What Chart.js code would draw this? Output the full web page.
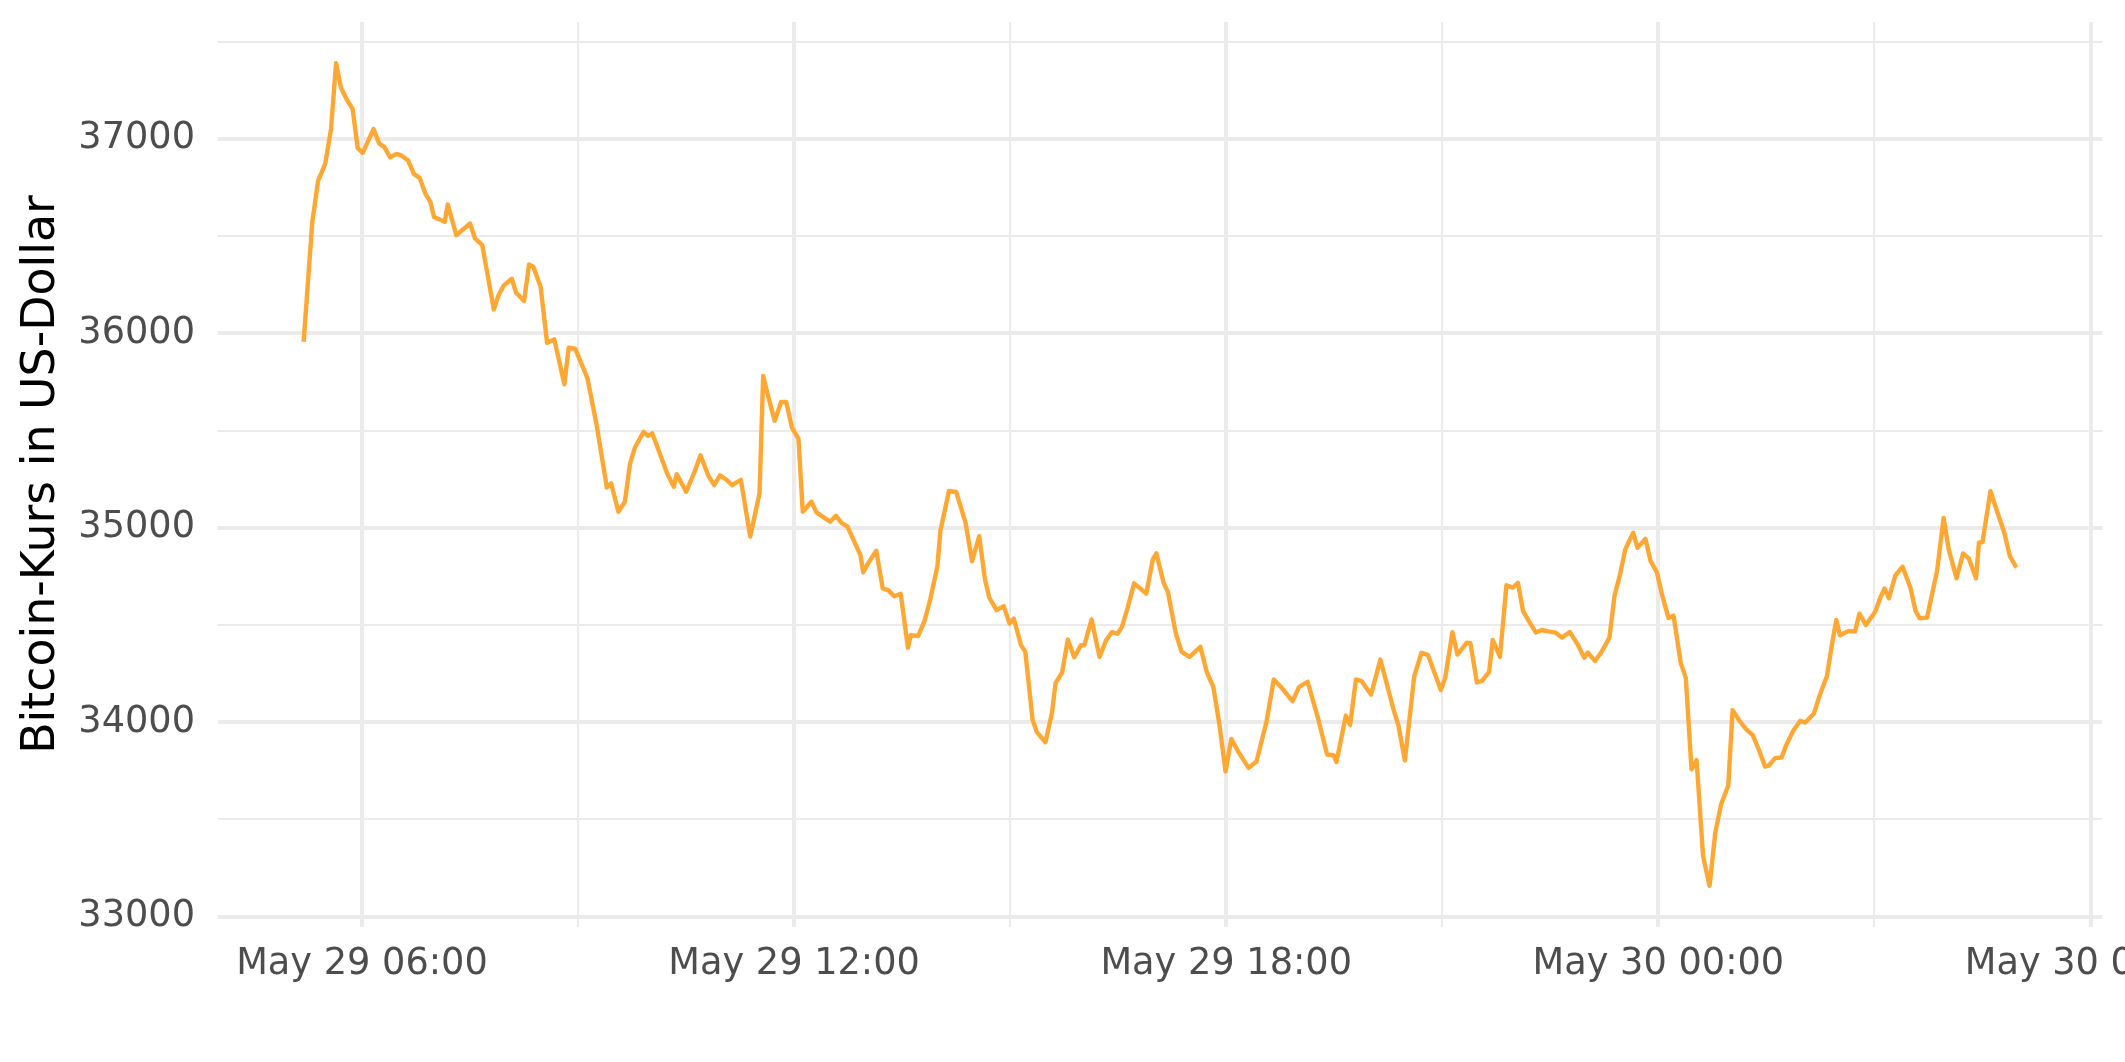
<!DOCTYPE html>
<html>
<head>
<meta charset="utf-8">
<title>Bitcoin-Kurs</title>
<script src="https://cdn.jsdelivr.net/npm/chart.js@4.4.1/dist/chart.umd.min.js"></script>
<style>
  html, body { margin: 0; padding: 0; background: #ffffff; }
  #wrap { width: 2125px; height: 1062px; }
</style>
</head>
<body>
<div id="wrap"><canvas id="btcChart" width="2125" height="1062"></canvas></div>
<script>
// time of each quote, in hours after May 29 00:00
const timeHours = [
  5.19, 5.31, 5.39, 5.49, 5.57, 5.64, 5.71, 5.79, 5.87, 5.94,
  6.01, 6.16, 6.24, 6.31, 6.39, 6.48, 6.55, 6.64, 6.72, 6.80,
  6.88, 6.95, 7.00, 7.15, 7.19, 7.31, 7.50, 7.57, 7.67, 7.83,
  7.90, 7.97, 8.08, 8.14, 8.25, 8.32, 8.38, 8.48, 8.57, 8.67,
  8.81, 8.87, 8.96, 9.13, 9.26, 9.40, 9.46, 9.56, 9.65, 9.72,
  9.79, 9.91, 9.97, 10.03, 10.13, 10.24, 10.33, 10.37, 10.50, 10.61,
  10.70, 10.81, 10.89, 10.97, 11.06, 11.14, 11.26, 11.39, 11.52, 11.57,
  11.64, 11.73, 11.82, 11.89, 11.97, 12.06, 12.12, 12.24, 12.31, 12.50,
  12.58, 12.66, 12.74, 12.92, 12.96, 13.02, 13.14, 13.23, 13.31, 13.39,
  13.48, 13.58, 13.62, 13.72, 13.81, 13.89, 13.99, 14.03, 14.15, 14.25,
  14.38, 14.47, 14.57, 14.65, 14.71, 14.81, 14.91, 14.99, 15.05, 15.15,
  15.21, 15.31, 15.37, 15.49, 15.58, 15.63, 15.72, 15.80, 15.89, 15.98,
  16.03, 16.13, 16.24, 16.33, 16.41, 16.49, 16.55, 16.63, 16.72, 16.89,
  16.98, 17.03, 17.13, 17.19, 17.30, 17.38, 17.49, 17.64, 17.73, 17.82,
  17.90, 17.99, 18.07, 18.17, 18.31, 18.42, 18.56, 18.66, 18.77, 18.92,
  19.01, 19.13, 19.27, 19.40, 19.49, 19.53, 19.66, 19.72, 19.80, 19.88,
  20.01, 20.14, 20.32, 20.39, 20.48, 20.61, 20.71, 20.80, 20.98, 21.04,
  21.14, 21.21, 21.34, 21.39, 21.48, 21.55, 21.65, 21.70, 21.80, 21.89,
  21.98, 22.05, 22.12, 22.20, 22.30, 22.38, 22.47, 22.57, 22.66, 22.77,
  22.89, 22.97, 23.02, 23.12, 23.21, 23.32, 23.39, 23.47, 23.54, 23.65,
  23.71, 23.82, 23.89, 23.98, 24.05, 24.14, 24.21, 24.31, 24.38, 24.46,
  24.53, 24.62, 24.71, 24.79, 24.87, 24.97, 25.03, 25.13, 25.22, 25.31,
  25.40, 25.48, 25.53, 25.62, 25.71, 25.78, 25.88, 25.97, 26.04, 26.16,
  26.24, 26.34, 26.41, 26.47, 26.52, 26.64, 26.73, 26.79, 26.88, 27.01,
  27.08, 27.14, 27.20, 27.29, 27.39, 27.50, 27.57, 27.63, 27.73, 27.87,
  27.96, 28.03, 28.14, 28.23, 28.31, 28.41, 28.45, 28.50, 28.61, 28.70,
  28.80, 28.88, 28.97
];

const priceUsd = [
  35957, 36572, 36783, 36873, 37051, 37390, 37262, 37202, 37154, 36954,
  36928, 37051, 36976, 36959, 36906, 36923, 36914, 36890, 36820, 36800,
  36719, 36676, 36599, 36574, 36663, 36505, 36565, 36488, 36454, 36123,
  36200, 36247, 36281, 36209, 36166, 36354, 36342, 36240, 35952, 35969,
  35738, 35926, 35921, 35770, 35524, 35207, 35228, 35082, 35134, 35327,
  35413, 35493, 35473, 35486, 35387, 35276, 35211, 35276, 35185, 35281,
  35373, 35267, 35219, 35270, 35247, 35219, 35247, 34955, 35178, 35781,
  35675, 35550, 35647, 35647, 35515, 35459, 35082, 35134, 35079, 35031,
  35062, 35024, 35007, 34860, 34771, 34813, 34882, 34688, 34678, 34648,
  34660, 34383, 34448, 34443, 34520, 34631, 34803, 34983, 35189, 35184,
  35026, 34828, 34957, 34734, 34640, 34576, 34597, 34508, 34533, 34396,
  34362, 34014, 33949, 33897, 34048, 34202, 34254, 34425, 34334, 34396,
  34396, 34528, 34336, 34420, 34463, 34455, 34489, 34588, 34714, 34662,
  34837, 34868, 34717, 34669, 34456, 34362, 34336, 34388, 34257, 34182,
  34000, 33747, 33914, 33846, 33765, 33798, 34005, 34220, 34177, 34108,
  34180, 34208, 34025, 33834, 33830, 33795, 34034, 33986, 34220, 34211,
  34142, 34322, 34068, 33983, 33803, 34237, 34357, 34345, 34165, 34228,
  34463, 34348, 34409, 34406, 34204, 34212, 34259, 34423, 34336, 34704,
  34692, 34717, 34572, 34521, 34461, 34474, 34467, 34461, 34435, 34464,
  34392, 34332, 34358, 34315, 34361, 34435, 34649, 34765, 34889, 34974,
  34897, 34943, 34830, 34770, 34656, 34536, 34548, 34305, 34228, 33757,
  33805, 33312, 33158, 33432, 33577, 33675, 34062, 34005, 33963, 33933,
  33853, 33772, 33776, 33815, 33818, 33887, 33961, 34007, 33998, 34045,
  34139, 34238, 34401, 34526, 34447, 34469, 34466, 34558, 34500, 34568,
  34640, 34688, 34637, 34755, 34800, 34690, 34572, 34534, 34538, 34781,
  35051, 34889, 34740, 34868, 34842, 34740, 34923, 34926, 35188, 35086,
  34978, 34854, 34795
];

const xTickHours = [6, 12, 18, 24, 30];
const xTickLabels = ['May 29 06:00', 'May 29 12:00', 'May 29 18:00', 'May 30 00:00', 'May 30 06:00'];
const yTickValues = [33000, 34000, 35000, 36000, 37000];

const points = timeHours.map((h, i) => ({ x: h, y: priceUsd[i] }));

// same 5% breathing room ggplot adds around the data
function padRange(values) {
  const lo = Math.min(...values);
  const hi = Math.max(...values);
  const pad = (hi - lo) * 0.05;
  return [lo - pad, hi + pad];
}
const [xMin, xMax] = padRange(timeHours);
const [yMin, yMax] = padRange(priceUsd);

// labelled breaks plus the unlabelled ones half way between (minor grid)
function withMinor(majors, lo, hi) {
  const half = (majors[1] - majors[0]) / 2;
  const all = [];
  majors.forEach(v => {
    if (v - half >= lo && !all.includes(v - half)) all.push(v - half);
    if (v >= lo && v <= hi) all.push(v);
    if (v + half <= hi) all.push(v + half);
  });
  return all.sort((a, b) => a - b);
}
const xGrid = withMinor(xTickHours, xMin, xMax);
const yGrid = withMinor(yTickValues, yMin, yMax);

const gridColor = '#EBEBEB';
const tickFont = { family: 'DejaVu Sans', size: 36.7, lineHeight: 1.2 };

const ctx = document.getElementById('btcChart').getContext('2d');
const chart = new Chart(ctx, {
  type: 'line',
  data: {
    datasets: [{
      data: points,
      borderColor: '#FFA733',
      borderWidth: 4.4,
      borderJoinStyle: 'round',
      pointRadius: 0,
      fill: false,
      tension: 0
    }]
  },
  options: {
    responsive: false,
    animation: false,
    devicePixelRatio: 1,
    events: [],
    layout: { padding: { top: 22, right: 23, bottom: 0, left: 0 } },
    plugins: {
      legend: { display: false },
      tooltip: { enabled: false }
    },
    scales: {
      x: {
        type: 'linear',
        min: xMin,
        max: xMax,
        border: { display: false },
        grid: {
          color: gridColor,
          drawTicks: false,
          lineWidth: (c) => xTickHours.includes(c.tick.value) ? 4 : 2
        },
        afterBuildTicks: (scale) => {
          scale.ticks = xGrid.map(v => ({ value: v }));
        },
        ticks: {
          autoSkip: false,
          maxRotation: 0,
          padding: 15,
          color: '#4D4D4D',
          font: tickFont,
          callback: (value) => {
            const k = xTickHours.indexOf(value);
            return k >= 0 ? xTickLabels[k] : '';
          }
        },
        afterFit: (scale) => {
          scale.height = 135;
          scale.paddingLeft = 0;
          scale.paddingRight = 0;
        }
      },
      y: {
        min: yMin,
        max: yMax,
        border: { display: false },
        grid: {
          color: gridColor,
          drawTicks: false,
          lineWidth: (c) => yTickValues.includes(c.tick.value) ? 4 : 2
        },
        afterBuildTicks: (scale) => {
          scale.ticks = yGrid.map(v => ({ value: v }));
        },
        ticks: {
          autoSkip: false,
          padding: 23,
          color: '#4D4D4D',
          font: tickFont,
          callback: (value) => yTickValues.includes(value) ? String(value) : ''
        },
        title: {
          display: true,
          text: 'Bitcoin-Kurs in US-Dollar',
          color: '#000000',
          font: { family: 'DejaVu Sans', size: 45.8, lineHeight: 1.2 },
          padding: { top: 15, bottom: 0 }
        },
        afterFit: (scale) => {
          scale.width = 218;
          scale.paddingTop = 0;
          scale.paddingBottom = 0;
        }
      }
    }
  }
});
</script>
</body>
</html>
